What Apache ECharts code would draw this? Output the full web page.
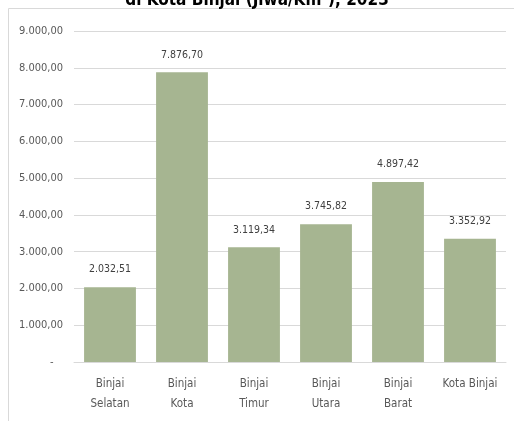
<!DOCTYPE html>
<html>
<head>
<meta charset="utf-8">
<script src="https://cdn.jsdelivr.net/npm/echarts@6/dist/echarts.min.js"></script>
<style>
  html, body { margin: 0; padding: 0; background: #fff; }
  #chart { width: 514px; height: 421px; }
</style>
</head>
<body>
<div id="chart"></div>
<script>
// kepadatan penduduk per kecamatan
const categories = ['Binjai\nSelatan', 'Binjai\nKota', 'Binjai\nTimur', 'Binjai\nUtara', 'Binjai\nBarat', 'Kota Binjai']
const density = [2032.51, 7876.70, 3119.34, 3745.82, 4897.42, 3352.92]
const yTicks = { min: 0, max: 9000, interval: 1000 }

const font = "'Liberation Sans Narrow', 'DejaVu Sans Condensed', 'Noto Sans', sans-serif"

function fmtId (v) {
  if (v === 0) return '-   '
  let parts = v.toFixed(2).split('.')
  let intPart = parts[0].replace(/\B(?=(\d{3})+(?!\d))/g, '.')
  return intPart + ',' + parts[1]
}

let myChart = echarts.init(document.getElementById('chart'))
let options = {
  animation: false,
  title: {
    text: 'di Kota Binjai (Jiwa/Km²), 2023',
    left: 'center',
    top: -13,
    textStyle: {
      fontFamily: font,
      fontSize: 17,
      fontWeight: 'bold',
      color: '#000'
    }
  },
  graphic: [
    {
      type: 'rect',
      z: -1,
      shape: { x: 8.5, y: 8.5, width: 530, height: 440 },
      style: { fill: 'none', stroke: '#d9d9d9', lineWidth: 1 }
    }
  ],
  grid: {
    top: 31,
    bottom: 59,
    left: 74,
    right: 8
  },
  xAxis: {
    type: 'category',
    data: categories,
    axisLine: {
      lineStyle: { color: '#d9d9d9' }
    },
    axisTick: { show: false },
    axisLabel: {
      color: '#595959',
      fontFamily: font,
      fontSize: 11.5,
      lineHeight: 20,
      margin: 12,
      interval: 0
    }
  },
  yAxis: {
    type: 'value',
    min: yTicks.min,
    max: yTicks.max,
    interval: yTicks.interval,
    axisLine: { show: false },
    axisTick: { show: false },
    axisLabel: {
      color: '#595959',
      fontFamily: font,
      fontSize: 11,
      margin: 11,
      formatter: fmtId
    },
    splitLine: {
      lineStyle: { color: '#d9d9d9' }
    }
  },
  series: [
    {
      type: 'bar',
      data: density,
      barCategoryGap: '28%',
      itemStyle: { color: '#a6b591' },
      label: {
        show: true,
        position: 'top',
        distance: 12,
        color: '#404040',
        fontFamily: font,
        fontSize: 10.5,
        formatter: p => fmtId(p.value)
      }
    }
  ]
}
myChart.setOption(options)
</script>
</body>
</html>
